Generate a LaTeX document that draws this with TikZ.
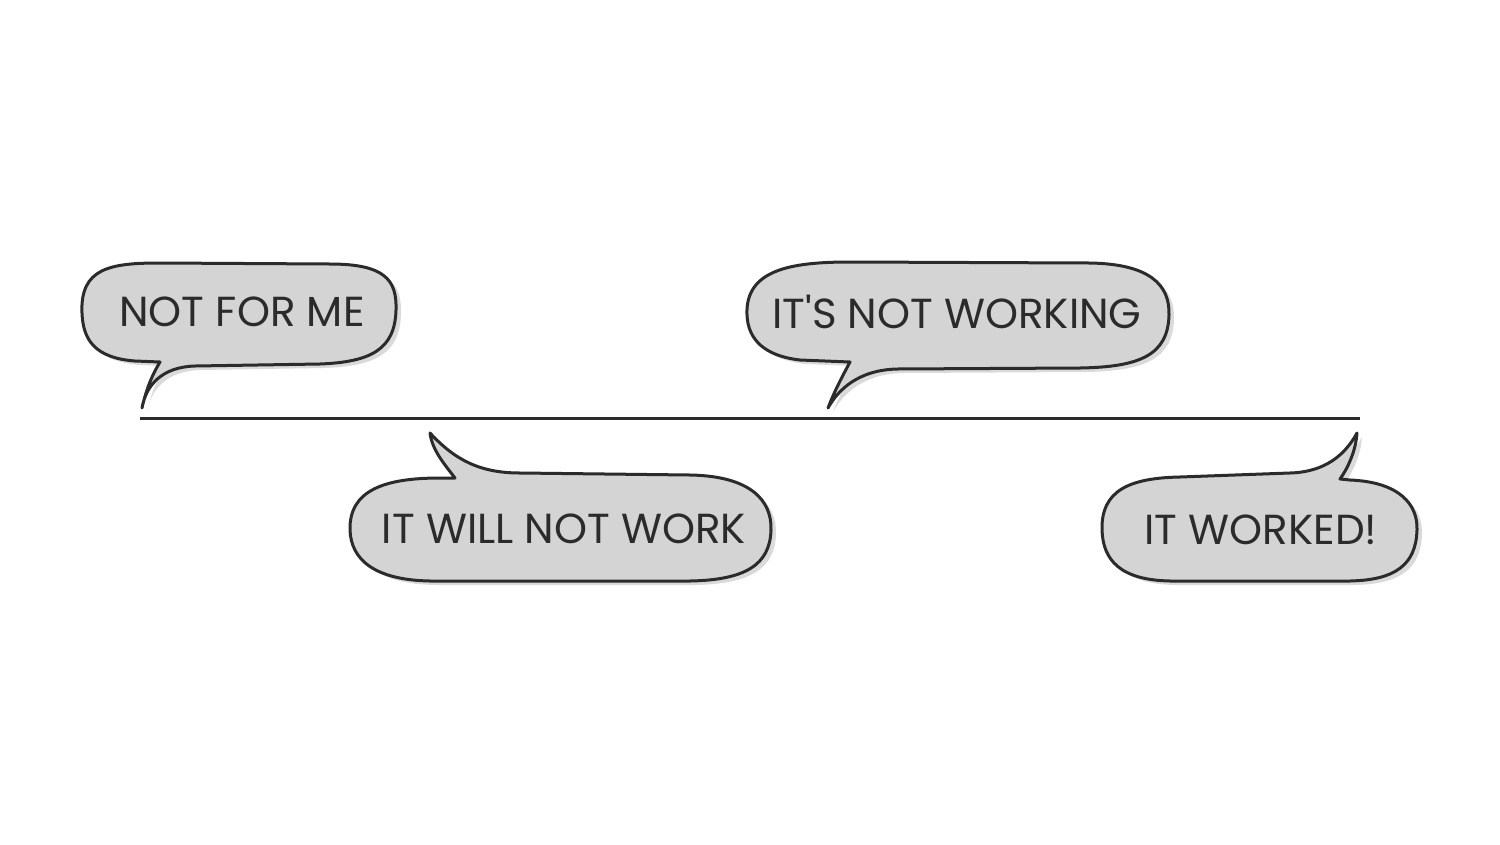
\documentclass[tikz,border=0pt]{standalone}
\usepackage{fontspec}
\setmainfont{Poppins}[Ligatures=TeXOff]
\definecolor{ink}{HTML}{2B2B2B}
\definecolor{bubblefill}{HTML}{D4D4D4}
\definecolor{shadowgray}{HTML}{DADADA}
\tikzset{
  bubble/.style={draw=ink, fill=bubblefill, line width=3pt, line join=round},
  bshadow/.style={fill=shadowgray, shift={(5,4)}},
  label/.style={text=ink, font=\fontsize{42}{46}\selectfont, inner sep=0pt},
  timeline/.style={draw=ink, line width=3pt}
}
\begin{document}
\begin{tikzpicture}[x=1pt,y=-1pt]
\useasboundingbox (0,0) rectangle (1500,844);
% bubble paths
\def\bubA{(82,313) .. controls (80,268) and (110,263) .. (160,263) -- (330,264) .. controls (385,264) and (397,280) .. (396,310) .. controls (395,350) and (370,362) .. (320,364) -- (195,366) .. controls (162,367) and (146,385) .. (142,408) .. controls (146,390) and (152,375) .. (160,362) -- (135,361) .. controls (95,358) and (83,340) .. (82,313) -- cycle}
\def\bubB{(747,315) .. controls (745,270) and (790,262) .. (850,262) -- (1090,263) .. controls (1150,264) and (1170,285) .. (1169,315) .. controls (1168,355) and (1140,367) .. (1080,368) -- (897,369) .. controls (858,370) and (838,390) .. (828,408) .. controls (834,392) and (843,375) .. (850,362) -- (800,360) .. controls (765,356) and (748,340) .. (747,315) -- cycle}
\def\bubC{(350,530) .. controls (349,490) and (385,478) .. (440,478) -- (455,478) .. controls (445,465) and (432,450) .. (430,433) .. controls (455,460) and (480,473) .. (520,473) -- (690,475) .. controls (750,476) and (772,500) .. (771,530) .. controls (770,565) and (745,580) .. (690,581) -- (430,581) .. controls (375,580) and (351,560) .. (350,530) -- cycle}
\def\bubD{(1102,530) .. controls (1101,490) and (1130,478) .. (1180,477) -- (1290,473) .. controls (1325,472) and (1345,455) .. (1357,433) .. controls (1356,450) and (1348,468) .. (1340,479) -- (1350,480) .. controls (1400,482) and (1418,505) .. (1417,530) .. controls (1416,565) and (1395,580) .. (1350,581) -- (1170,581) .. controls (1120,580) and (1103,560) .. (1102,530) -- cycle}
\path[bshadow] \bubA; \path[bubble] \bubA;
\path[bshadow] \bubB; \path[bubble] \bubB;
\path[bshadow] \bubC; \path[bubble] \bubC;
\path[bshadow] \bubD; \path[bubble] \bubD;
% timeline
\coordinate (start) at (140,418);
\coordinate (end) at (1360,418);
\draw[timeline] (start) -- (end);
% labels
\node[label] (t1) at (242,312) {NOT FOR ME};
\node[label] (t2) at (957,312) {IT'S NOT WORKING};
\node[label] (t3) at (564,529) {IT WILL NOT WORK};
\node[label] (t4) at (1261,530) {IT WORKED!};
\end{tikzpicture}
\end{document}
